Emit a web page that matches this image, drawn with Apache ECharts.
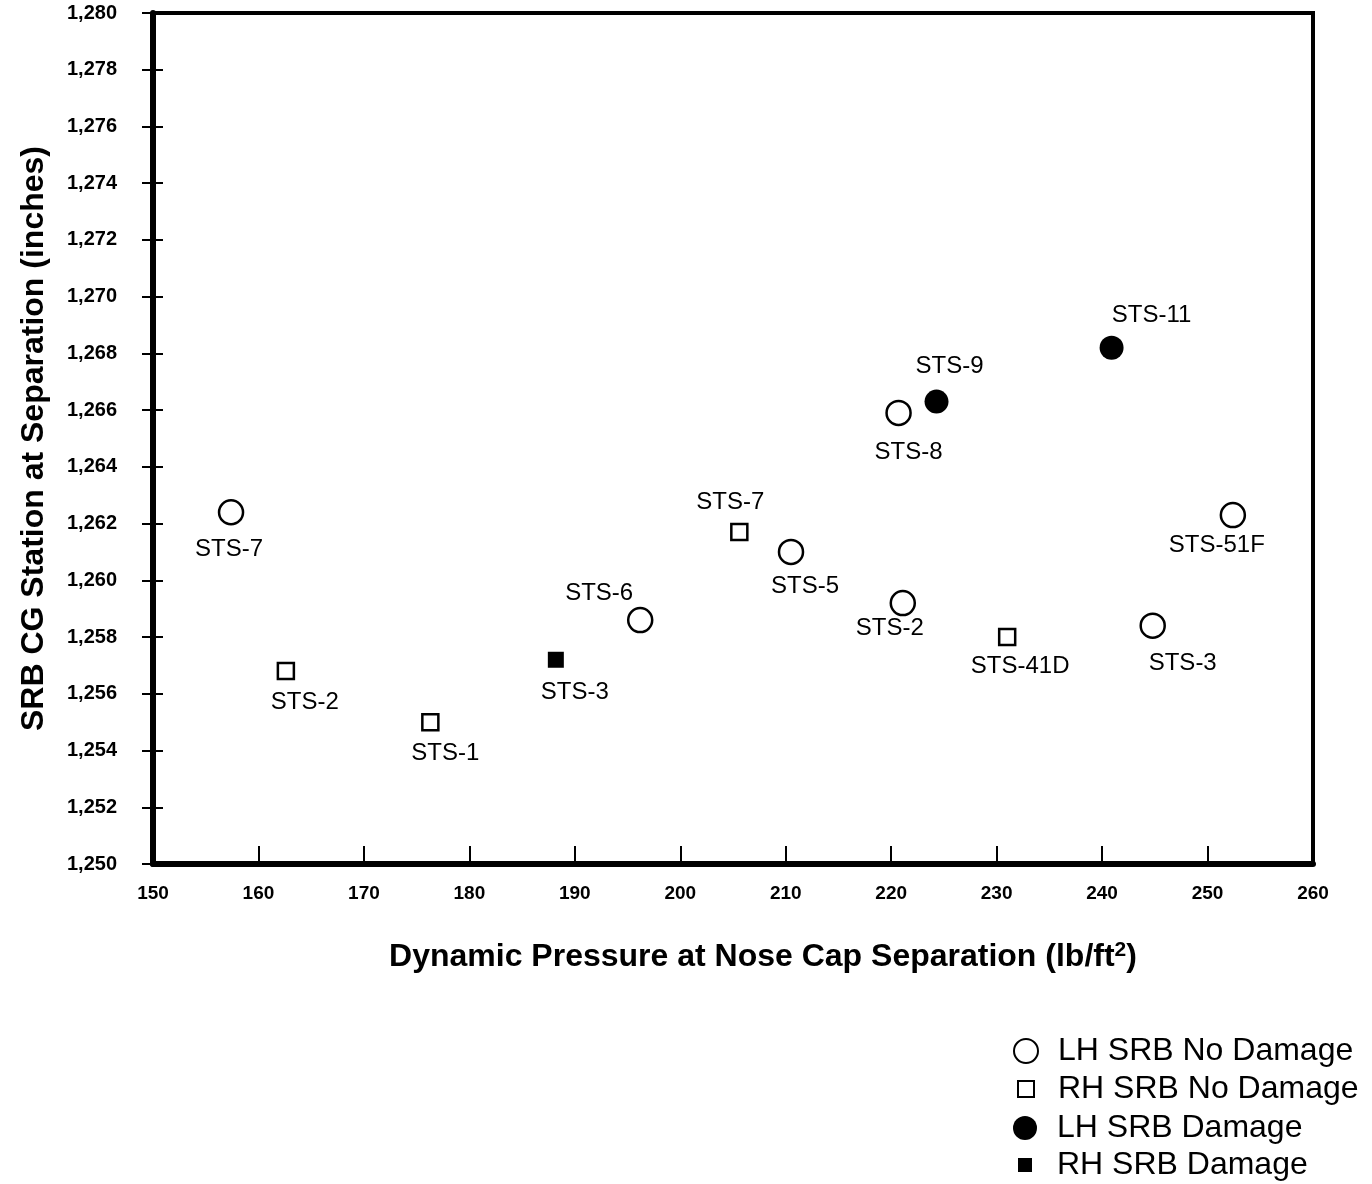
<!DOCTYPE html>
<html>
<head>
<meta charset="utf-8">
<script src="https://cdn.jsdelivr.net/npm/echarts@6/dist/echarts.min.js"></script>
<style>
html,body{margin:0;padding:0;background:#fff;}
#chart{width:1372px;height:1184px;}
</style>
</head>
<body>
<div id="chart"></div>
<script>
// ---- data ----
const lhNoDamageNames = ['STS-7', 'STS-6', 'STS-5', 'STS-8', 'STS-2', 'STS-3', 'STS-51F'];
const lhNoDamageX = [157.4, 196.2, 210.5, 220.7, 221.1, 244.8, 252.4];
const lhNoDamageY = [1262.4, 1258.6, 1261.0, 1265.9, 1259.2, 1258.4, 1262.3];

const rhNoDamageNames = ['STS-2', 'STS-1', 'STS-7', 'STS-41D'];
const rhNoDamageX = [162.6, 176.3, 205.6, 231.0];
const rhNoDamageY = [1256.8, 1255.0, 1261.7, 1258.0];

const lhDamageNames = ['STS-9', 'STS-11'];
const lhDamageX = [224.3, 240.9];
const lhDamageY = [1266.3, 1268.2];

const rhDamageNames = ['STS-3'];
const rhDamageX = [188.2];
const rhDamageY = [1257.2];

const seriesNames = ['LH SRB No Damage', 'RH SRB No Damage', 'LH SRB Damage', 'RH SRB Damage'];

// label offsets (style only): text center relative to marker center, px
const lhNoDamageLabelOffsets = [[-2, 37], [-41, -27], [14, 34], [10, 39], [-13, 25], [30, 38], [-16, 30]];
const rhNoDamageLabelOffsets = [[19, 31], [15, 31], [-9, -30], [13, 29]];
const lhDamageLabelOffsets = [[13, -35], [40, -32]];
const rhDamageLabelOffsets = [[19, 33]];

const FONT = '"Liberation Sans", Arial, Helvetica, sans-serif';

function build(names, xs, ys, offs) {
  return names.map((n, i) => ({
    name: n,
    value: [xs[i], ys[i]],
    label: { offset: offs[i] }
  }));
}

const pointLabel = {
  show: true,
  position: 'inside',
  formatter: p => p.name,
  color: '#000',
  fontFamily: FONT,
  fontSize: 24
};

const chart = echarts.init(document.getElementById('chart'), null, { renderer: 'canvas' });

function legendFor(name, icon, size, top, textPadLeft) {
  return {
    data: [{ name: name, icon: icon }],
    left: 1025 - size / 2,
    top: top,
    padding: 0,
    orient: 'vertical',
    itemWidth: size,
    itemHeight: size,
    selectedMode: false,
    textStyle: { color: '#000', fontFamily: FONT, fontSize: 32, padding: [0, 0, 0, textPadLeft] }
  };
}

chart.setOption({
  backgroundColor: '#fff',
  animation: false,
  grid: {
    left: 153, right: 59, top: 13, bottom: 320,
    show: true, borderColor: '#000', borderWidth: 4, backgroundColor: 'transparent'
  },
  legend: [
    legendFor(seriesNames[0], 'circle', 24, 1035, 15),
    legendFor(seriesNames[1], 'rect', 16, 1073, 19),
    legendFor(seriesNames[2], 'circle', 24, 1112, 15),
    legendFor(seriesNames[3], 'rect', 14, 1149, 20)
  ],
  xAxis: {
    type: 'value',
    min: 150, max: 260, interval: 10,
    axisLine: { show: true, lineStyle: { color: '#000', width: 6 } },
    axisTick: { show: true, inside: true, length: 18, lineStyle: { color: '#000', width: 2 } },
    axisLabel: { color: '#000', fontFamily: FONT, fontSize: 19, fontWeight: 'bold', margin: 20 },
    splitLine: { show: false },
    name: 'Dynamic Pressure at Nose Cap Separation (lb/ft{sup|2})',
    nameLocation: 'middle',
    nameGap: 76,
    nameTextStyle: {
      color: '#000', fontFamily: FONT, fontSize: 32, fontWeight: 'bold',
      padding: [0, 0, 0, 60],
      rich: { sup: { fontSize: 21, fontWeight: 'bold', fontFamily: FONT, color: '#000', verticalAlign: 'top', padding: [0, 0, 14, 0] } }
    }
  },
  yAxis: [
    {
      type: 'value',
      position: 'left',
      min: 1250, max: 1280, interval: 2,
      axisLine: { show: true, lineStyle: { color: '#000', width: 6 } },
      axisTick: { show: true, inside: false, length: 11, lineStyle: { color: '#000', width: 2 } },
      axisLabel: {
        color: '#000', fontFamily: FONT, fontSize: 20, fontWeight: 'bold', margin: 36,
        formatter: v => v.toLocaleString('en-US')
      },
      splitLine: { show: false },
      name: 'SRB CG Station at Separation (inches)',
      nameLocation: 'middle',
      nameRotate: 90,
      nameGap: 103,
      nameTextStyle: { color: '#000', fontFamily: FONT, fontSize: 32, fontWeight: 'bold' }
    },
    {
      type: 'value',
      position: 'left',
      min: 1250, max: 1280, interval: 2,
      axisLine: { show: false },
      axisTick: { show: true, inside: true, length: 10, lineStyle: { color: '#000', width: 2 } },
      axisLabel: { show: false },
      splitLine: { show: false }
    }
  ],
  series: [
    {
      name: seriesNames[0], type: 'scatter', yAxisIndex: 0,
      symbol: 'circle', symbolSize: 24,
      itemStyle: { color: '#fff', borderColor: '#000', borderWidth: 2.5, opacity: 1 },
      label: pointLabel,
      data: build(lhNoDamageNames, lhNoDamageX, lhNoDamageY, lhNoDamageLabelOffsets)
    },
    {
      name: seriesNames[1], type: 'scatter', yAxisIndex: 0,
      symbol: 'rect', symbolSize: 16,
      itemStyle: { color: '#fff', borderColor: '#000', borderWidth: 2.5, opacity: 1 },
      label: pointLabel,
      data: build(rhNoDamageNames, rhNoDamageX, rhNoDamageY, rhNoDamageLabelOffsets)
    },
    {
      name: seriesNames[2], type: 'scatter', yAxisIndex: 0,
      symbol: 'circle', symbolSize: 24,
      itemStyle: { color: '#000', borderColor: '#000', borderWidth: 0, opacity: 1 },
      label: pointLabel,
      data: build(lhDamageNames, lhDamageX, lhDamageY, lhDamageLabelOffsets)
    },
    {
      name: seriesNames[3], type: 'scatter', yAxisIndex: 0,
      symbol: 'rect', symbolSize: 16,
      itemStyle: { color: '#000', borderColor: '#000', borderWidth: 0, opacity: 1 },
      label: pointLabel,
      data: build(rhDamageNames, rhDamageX, rhDamageY, rhDamageLabelOffsets)
    }
  ]
});
</script>
</body>
</html>
